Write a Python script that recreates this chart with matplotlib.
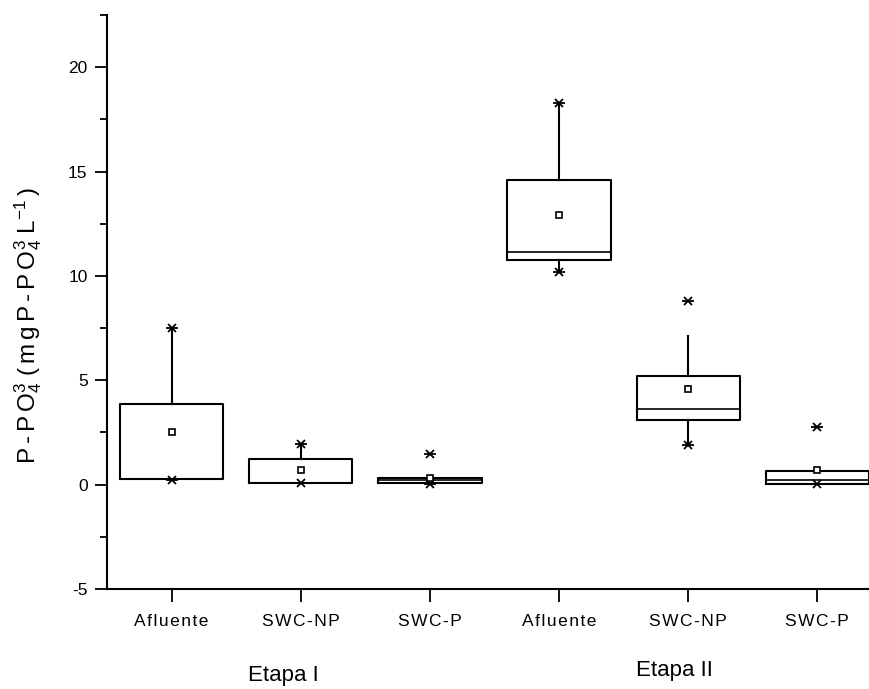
import matplotlib
matplotlib.use("Agg")
import matplotlib.pyplot as plt
from matplotlib.ticker import MultipleLocator

plt.rcParams['font.family'] = ['Liberation Sans', 'DejaVu Sans']
plt.rcParams['axes.unicode_minus'] = False
plt.rcParams['mathtext.fontset'] = 'custom'
plt.rcParams['mathtext.rm'] = 'Liberation Sans'
plt.rcParams['mathtext.it'] = 'Liberation Sans'
plt.rcParams['mathtext.default'] = 'regular'

# box statistics
labels = ["Afluente", "SWC-NP", "SWC-P", "Afluente", "SWC-NP", "SWC-P"]
q1 = [0.25, 0.08, 0.06, 10.77, 3.08, 0.02]
med = [0.25, 0.08, 0.2, 11.15, 3.6, 0.2]
q3 = [3.85, 1.23, 0.3, 14.6, 5.2, 0.64]
whislo = [0.25, 0.08, 0.06, 10.3, 1.9, 0.02]
whishi = [7.5, 1.95, 0.3, 18.3, 7.1, 0.64]
means = [2.5, 0.7, 0.3, 12.93, 4.6, 0.72]
pmax = [7.5, 1.95, 1.47, 18.3, 8.8, 2.75]
pmin = [0.2, 0.1, 0.02, 10.2, 1.9, 0.03]

fig = plt.figure(figsize=(8.69, 6.89), dpi=100)
ax = fig.add_axes([107 / 869, 1 - 589 / 689, 1 - 107 / 869, (589 - 15) / 689])

stats = []
for i in range(len(labels)):
    stats.append(dict(label=labels[i], q1=q1[i], med=med[i], q3=q3[i],
                      whislo=whislo[i], whishi=whishi[i], mean=means[i], fliers=[]))

pos = list(range(1, len(labels) + 1))
lw = 1.5
ax.bxp(stats, positions=pos, widths=0.8, showmeans=True, showcaps=False,
       boxprops=dict(color='black', linewidth=lw),
       whiskerprops=dict(color='black', linewidth=lw),
       medianprops=dict(color='black', linewidth=1.2),
       meanprops=dict(marker='s', markerfacecolor='white', markeredgecolor='black',
                      markersize=5, markeredgewidth=1.2))

ax.plot(pos, pmax, linestyle='none', marker='x', color='black', markersize=6, mew=1.3)
ax.plot(pos, pmin, linestyle='none', marker='x', color='black', markersize=6, mew=1.3)
ax.plot(pos, pmax, linestyle='none', marker='_', color='black', markersize=9, mew=1.3)
ax.plot(pos, pmin, linestyle='none', marker='_', color='black', markersize=9, mew=1.3)

# spaced-out text like the original
hs = "\u200a"
spaced = [hs.join(list(s)) for s in labels]

ax.set_xlim(0.5, 6.4)
ax.set_ylim(-5, 22.5)
ax.set_xticks(pos)
ax.set_xticklabels(spaced, fontsize=12.5)
ax.yaxis.set_minor_locator(MultipleLocator(2.5))
ax.set_yticks([-5, 0, 5, 10, 15, 20])
ax.tick_params(axis='x', which='major', direction='out', length=9, width=1.3,
               labelsize=12.5, pad=9)
ax.tick_params(axis='y', which='major', direction='out', length=9, width=1.3,
               labelsize=12.5, pad=5)
ax.tick_params(axis='y', which='minor', direction='out', length=5, width=1.3)
for s in ['top', 'right']:
    ax.spines[s].set_visible(False)
for s in ['left', 'bottom']:
    ax.spines[s].set_linewidth(1.5)

hs2 = hs * 2
ylab = (hs2.join("P-PO") + "$_4^{3}$ " + hs2.join("(mgP-PO") + "$_4^{3}$ "
        + "L$^{-1}$" + hs2 + ")")
ax.set_ylabel(ylab, fontsize=17.5)
ax.yaxis.set_label_coords((44 - 107) / 762, (589 - 325) / 574)

fig.text(283 / 869, 1 - 681 / 689, "Etapa I", fontsize=16, ha='center', va='baseline')
fig.text(674 / 869, 1 - 676 / 689, "Etapa II", fontsize=16, ha='center', va='baseline')

fig.savefig("out.png", dpi=100)
